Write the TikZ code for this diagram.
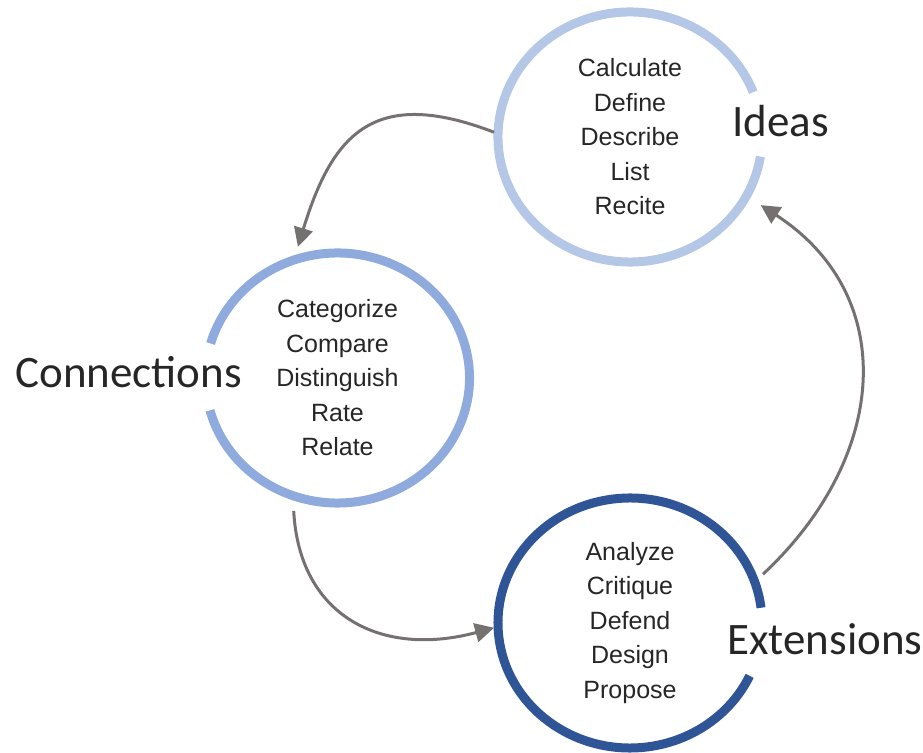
\documentclass[tikz,border=0pt]{standalone}
\usepackage{fontspec}
\setmainfont{Liberation Sans}
\newfontfamily\labelfont{Carlito}
\usetikzlibrary{positioning, calc, shapes.geometric, arrows.meta}
\definecolor{ringlight}{HTML}{B4C7E7}
\definecolor{ringmid}{HTML}{8FAADC}
\definecolor{ringdark}{HTML}{2F5597}
\definecolor{flowgray}{HTML}{767171}
\definecolor{textgray}{HTML}{262626}
\tikzset{zone/.style={ellipse, minimum width=272pt, minimum height=258pt, inner sep=0pt, outer sep=0pt,
    align=center, text=textgray, font=\fontsize{25}{34.5}\selectfont}}
\tikzset{zonename/.style={text=textgray, inner sep=0pt, font=\labelfont\fontsize{45}{45}\selectfont}}
\tikzset{ring/.style={line width=9pt}}
\tikzset{flow/.style={flowgray, line width=3pt, -{Triangle[length=19pt, width=19pt]}}}

\begin{document}
\begin{tikzpicture}[x=1pt, y=1pt]
  \useasboundingbox (0,0) rectangle (923,752);

  \node[zone] (id) at (630,615) {Calculate\\Define\\Describe\\List\\Recite};
  \node[zone] (co) at (337.5,374) {Categorize\\Compare\\Distinguish\\Rate\\Relate};
  \node[zone] (ex) at (630,129) {Analyze\\Critique\\Defend\\Design\\Propose};

  \draw[ring, ringlight] (id.center) ++(21:132pt and 125pt)
    arc[start angle=21, end angle=351, x radius=132pt, y radius=125pt];
  \draw[ring, ringmid] (co.center) ++(-165:132pt and 125pt)
    arc[start angle=-165, end angle=164, x radius=132pt, y radius=125pt];
  \draw[ring, ringdark] (ex.center) ++(7:132pt and 125pt)
    arc[start angle=7, end angle=335, x radius=132pt, y radius=125pt];

  \node[zonename, anchor=base west] (idn) at ($(id.center)+(102,0)$) {Ideas};
  \node[zonename, anchor=base east] (con) at ($(co.center)+(-95.5,-10)$) {Connections};
  \node[zonename, anchor=base west] (exn) at ($(ex.center)+(97,-32)$) {Extensions};

  \draw[flow, shorten >=9pt] (id.178) to[out=159, in=73, looseness=1.4] (co.109);
  \draw[flow, shorten <=11pt] (co.250) to[out=-87, in=195, looseness=1.25] (ex.182);
  \draw[flow, shorten <=7pt, shorten >=13pt] (ex.19) to[out=43, in=-33, looseness=1.2] (id.-27);
\end{tikzpicture}
\end{document}
